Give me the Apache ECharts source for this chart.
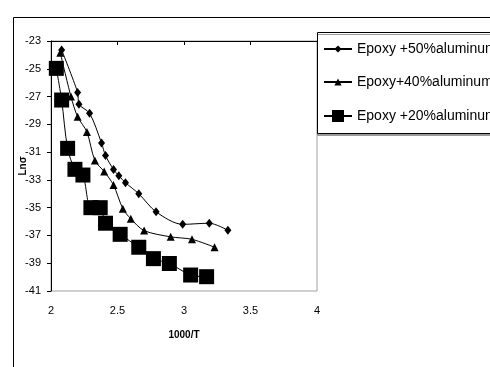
<!DOCTYPE html>
<html>
<head>
<meta charset="UTF-8">
<title>Ln sigma vs 1000/T</title>
<script src="https://cdn.jsdelivr.net/npm/echarts@6/dist/echarts.min.js"></script>
<style>
  html, body { margin: 0; padding: 0; background: #fff; }
  #chart { width: 490px; height: 367px; }
</style>
</head>
<body>
<div id="chart"></div>
<script>
// data
const names = ['Epoxy +50%aluminum', 'Epoxy+40%aluminum', 'Epoxy +20%aluminum'];

const x50 = [2.08, 2.20, 2.21, 2.29, 2.38, 2.41, 2.47, 2.51, 2.56, 2.66, 2.79, 2.99, 3.19, 3.33];
const y50 = [-23.65, -26.7, -27.55, -28.2, -30.35, -31.25, -32.25, -32.7, -33.2, -34.0, -35.3, -36.2, -36.12, -36.63];

const x40 = [2.07, 2.15, 2.20, 2.27, 2.33, 2.40, 2.47, 2.54, 2.60, 2.70, 2.90, 3.06, 3.23];
const y40 = [-23.85, -27.0, -28.45, -29.55, -31.6, -32.4, -33.37, -35.07, -35.8, -36.65, -37.1, -37.28, -37.85];

const x20 = [2.04, 2.08, 2.125, 2.18, 2.24, 2.30, 2.37, 2.41, 2.52, 2.66, 2.77, 2.89, 3.05, 3.17];
const y20 = [-24.97, -27.25, -30.73, -32.24, -32.65, -35.0, -35.0, -36.12, -36.92, -37.85, -38.67, -39.02, -39.85, -39.97];

const xTicks = [2, 2.5, 3, 3.5, 4];
const yTicks = [-41, -39, -37, -35, -33, -31, -29, -27, -25, -23];

const pairs = (xs, ys) => xs.map((x, i) => [x, ys[i]]);
const font = 'Liberation Sans, Arial, sans-serif';

const chart = echarts.init(document.getElementById('chart'));

const mkLegend = (name, top, h) => ({
  data: [name],
  left: 323,
  top: top,
  padding: 0,
  itemWidth: 28,
  itemHeight: h,
  itemGap: 0,
  textStyle: { fontFamily: font, fontSize: 14, color: '#000', lineHeight: 16 },
  inactiveColor: '#000'
});

const mkSeries = (name, data, symbol, size) => ({
  name: name,
  type: 'line',
  data: data,
  smooth: 0.3,
  symbol: symbol,
  symbolSize: size,
  showSymbol: true,
  lineStyle: { color: '#000', width: 1 },
  itemStyle: { color: '#000' },
  z: 5
});

chart.setOption({
  animation: false,
  backgroundColor: '#fff',
  graphic: [
    // chart frame
    { type: 'rect', left: 11, top: 15, z: -1, silent: true,
      shape: { width: 700, height: 500 },
      style: { fill: 'none', stroke: '#000', lineWidth: 1 } },
    // legend box
    { type: 'rect', left: 317, top: 32, z: 3, silent: true,
      shape: { width: 200, height: 101 },
      style: { fill: '#fff', stroke: '#000', lineWidth: 1,
               shadowColor: '#999', shadowOffsetY: 2, shadowOffsetX: 0, shadowBlur: 0 } }
  ],
  legend: [
    mkLegend(names[0], 41, 9),
    mkLegend(names[1], 74, 9),
    mkLegend(names[2], 108, 15)
  ],
  grid: {
    left: 51, right: 173, top: 41, bottom: 76,
    show: true, borderColor: '#a0a0a0', borderWidth: 1, backgroundColor: '#fff'
  },
  xAxis: [
    {
      type: 'value', position: 'bottom',
      min: xTicks[0], max: xTicks[xTicks.length - 1], interval: 0.5,
      name: '1000/T', nameLocation: 'middle', nameGap: 39, nameMoveOverlap: false,
      nameTextStyle: { fontFamily: font, fontSize: 10, fontWeight: 'bold', color: '#000' },
      axisLine: { show: false },
      axisTick: { show: false },
      splitLine: { show: false },
      axisLabel: { margin: 14, fontFamily: font, fontSize: 11, color: '#000' }
    },
    {
      type: 'value', position: 'top',
      min: xTicks[0], max: xTicks[xTicks.length - 1], interval: 0.5,
      axisLine: { show: true, lineStyle: { color: '#000', width: 1 } },
      axisTick: { show: true, inside: true, length: 4, lineStyle: { color: '#000' } },
      axisLabel: { show: false },
      splitLine: { show: false }
    }
  ],
  yAxis: {
    type: 'value',
    min: yTicks[0], max: yTicks[yTicks.length - 1], interval: 2,
    name: 'Lnσ', nameLocation: 'middle', nameGap: 23, nameRotate: 90, nameMoveOverlap: false,
    nameTextStyle: { fontFamily: font, fontSize: 10, fontWeight: 'bold', color: '#000' },
    axisLine: { show: true, lineStyle: { color: '#000', width: 1 } },
    axisTick: { show: true, inside: false, length: 4, lineStyle: { color: '#000' } },
    splitLine: { show: false },
    axisLabel: { margin: 10, fontFamily: font, fontSize: 11, color: '#000' }
  },
  series: [
    mkSeries(names[0], pairs(x50, y50), 'diamond', [7, 9]),
    mkSeries(names[1], pairs(x40, y40), 'triangle', 8),
    mkSeries(names[2], pairs(x20, y20), 'rect', 15)
  ]
});
</script>
</body>
</html>
